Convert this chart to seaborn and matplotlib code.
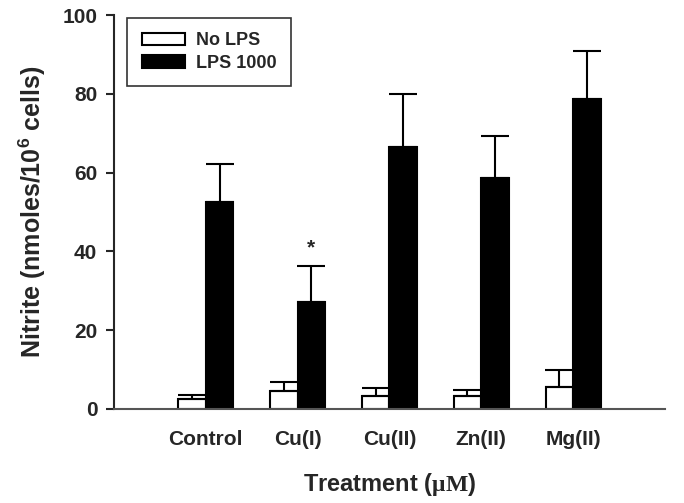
import matplotlib
matplotlib.use("Agg")
import matplotlib.pyplot as plt
import pandas as pd
import seaborn as sns

# ---- Data ----
TREATMENTS = ["Control", "Cu(I)", "Cu(II)", "Zn(II)", "Mg(II)"]
NO_LPS = [2.5, 4.6, 3.4, 3.4, 5.5]
NO_LPS_ERR = [1.0, 2.2, 1.9, 1.5, 4.5]
LPS_1000 = [52.5, 27.2, 66.5, 58.7, 78.8]
LPS_1000_ERR = [9.7, 9.0, 13.5, 10.6, 12.2]
GROUPS = ["No LPS", "LPS 1000"]

sns.set_style("ticks")
plt.rcParams["font.family"] = ["Liberation Sans", "DejaVu Sans"]
plt.rcParams["font.weight"] = "bold"
plt.rcParams["mathtext.fontset"] = "custom"
plt.rcParams["mathtext.rm"] = "Liberation Serif"
plt.rcParams["mathtext.bf"] = "Liberation Sans:bold"

df = pd.DataFrame({
    "Treatment": TREATMENTS * 2,
    "Group": [GROUPS[0]] * len(TREATMENTS) + [GROUPS[1]] * len(TREATMENTS),
    "Nitrite": NO_LPS + LPS_1000,
    "Err": NO_LPS_ERR + LPS_1000_ERR,
})

fig = plt.figure(figsize=(6.84, 5.03), dpi=100)
ax = fig.add_axes([0.1667, 0.187, 0.8053, 0.783])

sns.barplot(data=df, x="Treatment", y="Nitrite", hue="Group", order=TREATMENTS,
            hue_order=GROUPS, palette=["white", "black"], edgecolor="black",
            linewidth=1.5, width=0.6, errorbar=None, ax=ax)

# upward-only error bars at the bar centres
bars = [p for p in ax.patches if p.get_height() > 0][:2 * len(TREATMENTS)]
for bar, (_, row) in zip(bars, df.iterrows()):
    xc = bar.get_x() + bar.get_width() / 2
    ax.errorbar(xc, row["Nitrite"], yerr=[[0], [row["Err"]]], fmt="none",
                ecolor="black", elinewidth=1.5, capsize=10, capthick=1.5)

# significance marker over Cu(I) + LPS
cu1 = bars[len(TREATMENTS) + 1]
ax.text(cu1.get_x() + cu1.get_width() / 2, 38.5, "*", ha="center", va="bottom",
        fontsize=15, fontweight="bold")

ax.set_xlim(-1, 5)
ax.set_ylim(0, 100)
ax.set_yticks([0, 20, 40, 60, 80, 100])
ax.tick_params(axis="y", direction="out", length=6, width=1.5, labelsize=15, pad=6)
ax.tick_params(axis="x", length=0, labelsize=15, pad=15)
for lab in ax.get_xticklabels() + ax.get_yticklabels():
    lab.set_fontweight("bold")

sns.despine(ax=ax)
ax.spines["left"].set_linewidth(1.5)
ax.spines["bottom"].set_linewidth(1.5)
ax.spines["bottom"].set_color("#555555")

ax.set_ylabel(r"Nitrite (nmoles/10$^{\mathbf{6}}$ cells)", fontsize=18,
              fontweight="bold", labelpad=10)
ax.set_xlabel(r"Treatment ($\mathrm{\mu M}$)", fontsize=17, fontweight="bold",
              labelpad=16)

leg = ax.legend(loc="upper left", bbox_to_anchor=(0.024, 0.993), fontsize=13,
                frameon=True, fancybox=False, edgecolor="black",
                borderaxespad=0, handlelength=2.4, handleheight=0.7,
                handletextpad=0.6, borderpad=0.8, labelspacing=0.3)
leg.get_frame().set_linewidth(1.2)
for t in leg.get_texts():
    t.set_fontweight("bold")

fig.savefig("out.png", dpi=100)
